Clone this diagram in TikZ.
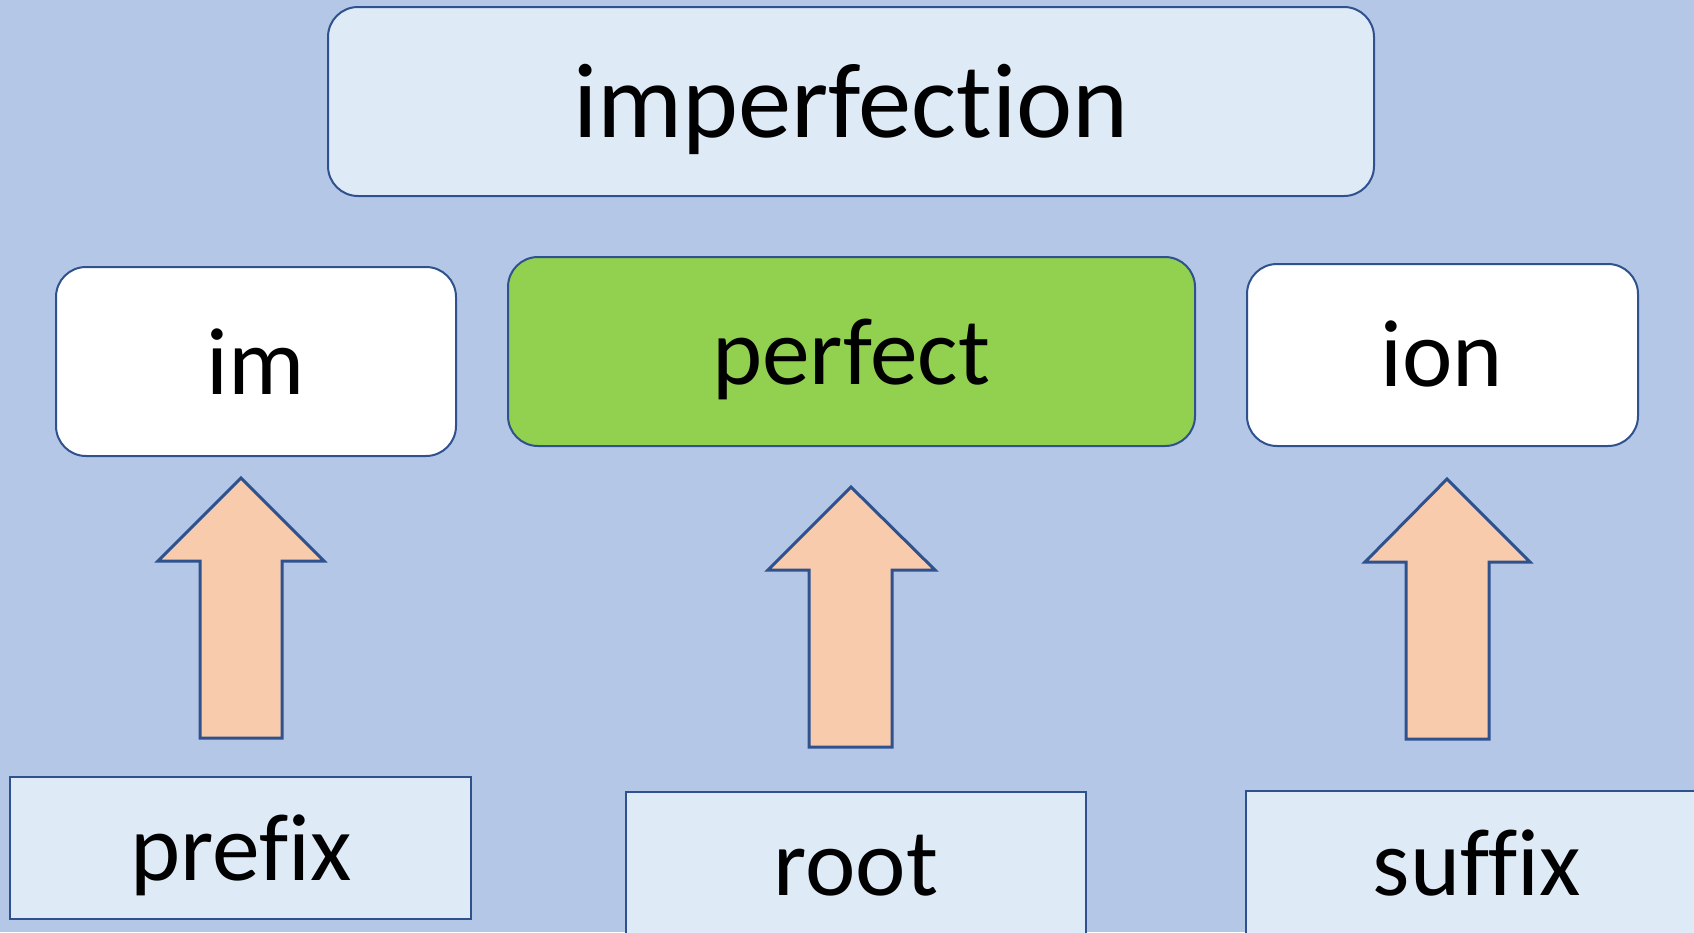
\documentclass[tikz,border=0pt]{standalone}
\usepackage{fontspec}
\setmainfont{Carlito}[Ligatures={NoCommon,NoRequired,NoContextual}]
\definecolor{bg}{HTML}{B4C7E7}
\definecolor{lightbox}{HTML}{DEEBF7}
\definecolor{edge}{HTML}{2F528F}
\definecolor{green}{HTML}{92D050}
\definecolor{peach}{HTML}{F8CBAD}
\tikzset{
  rbox/.style={draw=edge, line width=2pt, rounded corners=30pt},
  sbox/.style={draw=edge, line width=2pt},
  word/.style={anchor=base, inner sep=0pt, font=\fontsize{95.5}{112}\selectfont},
  bigword/.style={anchor=base, inner sep=0pt, font=\fontsize{106.5}{120}\selectfont},
  blockarrow/.style={draw=edge, fill=peach, line width=3pt, line join=miter},
}
\begin{document}
\begin{tikzpicture}[x=1pt,y=-1pt]
\useasboundingbox (0,0) rectangle (1694,932);
\clip (0,0) rectangle (1694,932);
\fill[bg] (0,0) rectangle (1694,932);
% top
\draw[rbox, fill=lightbox] (328,7) rectangle (1374,196);
\node[bigword] (timperfection) at (851,137) {imperfection};
% middle row
\draw[rbox, fill=white] (56,267) rectangle (456,456);
\node[word] (tim) at (256,394) {im};
\draw[rbox, fill=green] (508,257) rectangle (1195,446);
\node[word] (tperfect) at (851,384) {perfect};
\draw[rbox, fill=white] (1247,264) rectangle (1638,446);
\node[word] (tion) at (1442,386) {ion};
% bottom row
\draw[sbox, fill=lightbox] (10,777) rectangle (471,919);
\node[word] (tprefix) at (241,880) {prefix};
\draw[sbox, fill=lightbox] (626,792) rectangle (1086,960);
\node[word] (troot) at (856,895) {root};
\draw[sbox, fill=lightbox] (1246,791) rectangle (1720,960);
\node[word] (tsuffix) at (1477,895) {suffix};
% arrows
\draw[blockarrow] (241,478) -- (324,561) -- (282,561) -- (282,738) -- (200,738) -- (200,561) -- (158,561) -- cycle;
\draw[blockarrow] (851,487) -- (935,570) -- (892,570) -- (892,747) -- (809,747) -- (809,570) -- (768,570) -- cycle;
\draw[blockarrow] (1447,479) -- (1530,562) -- (1489,562) -- (1489,739) -- (1406,739) -- (1406,562) -- (1365,562) -- cycle;
\end{tikzpicture}
\end{document}
